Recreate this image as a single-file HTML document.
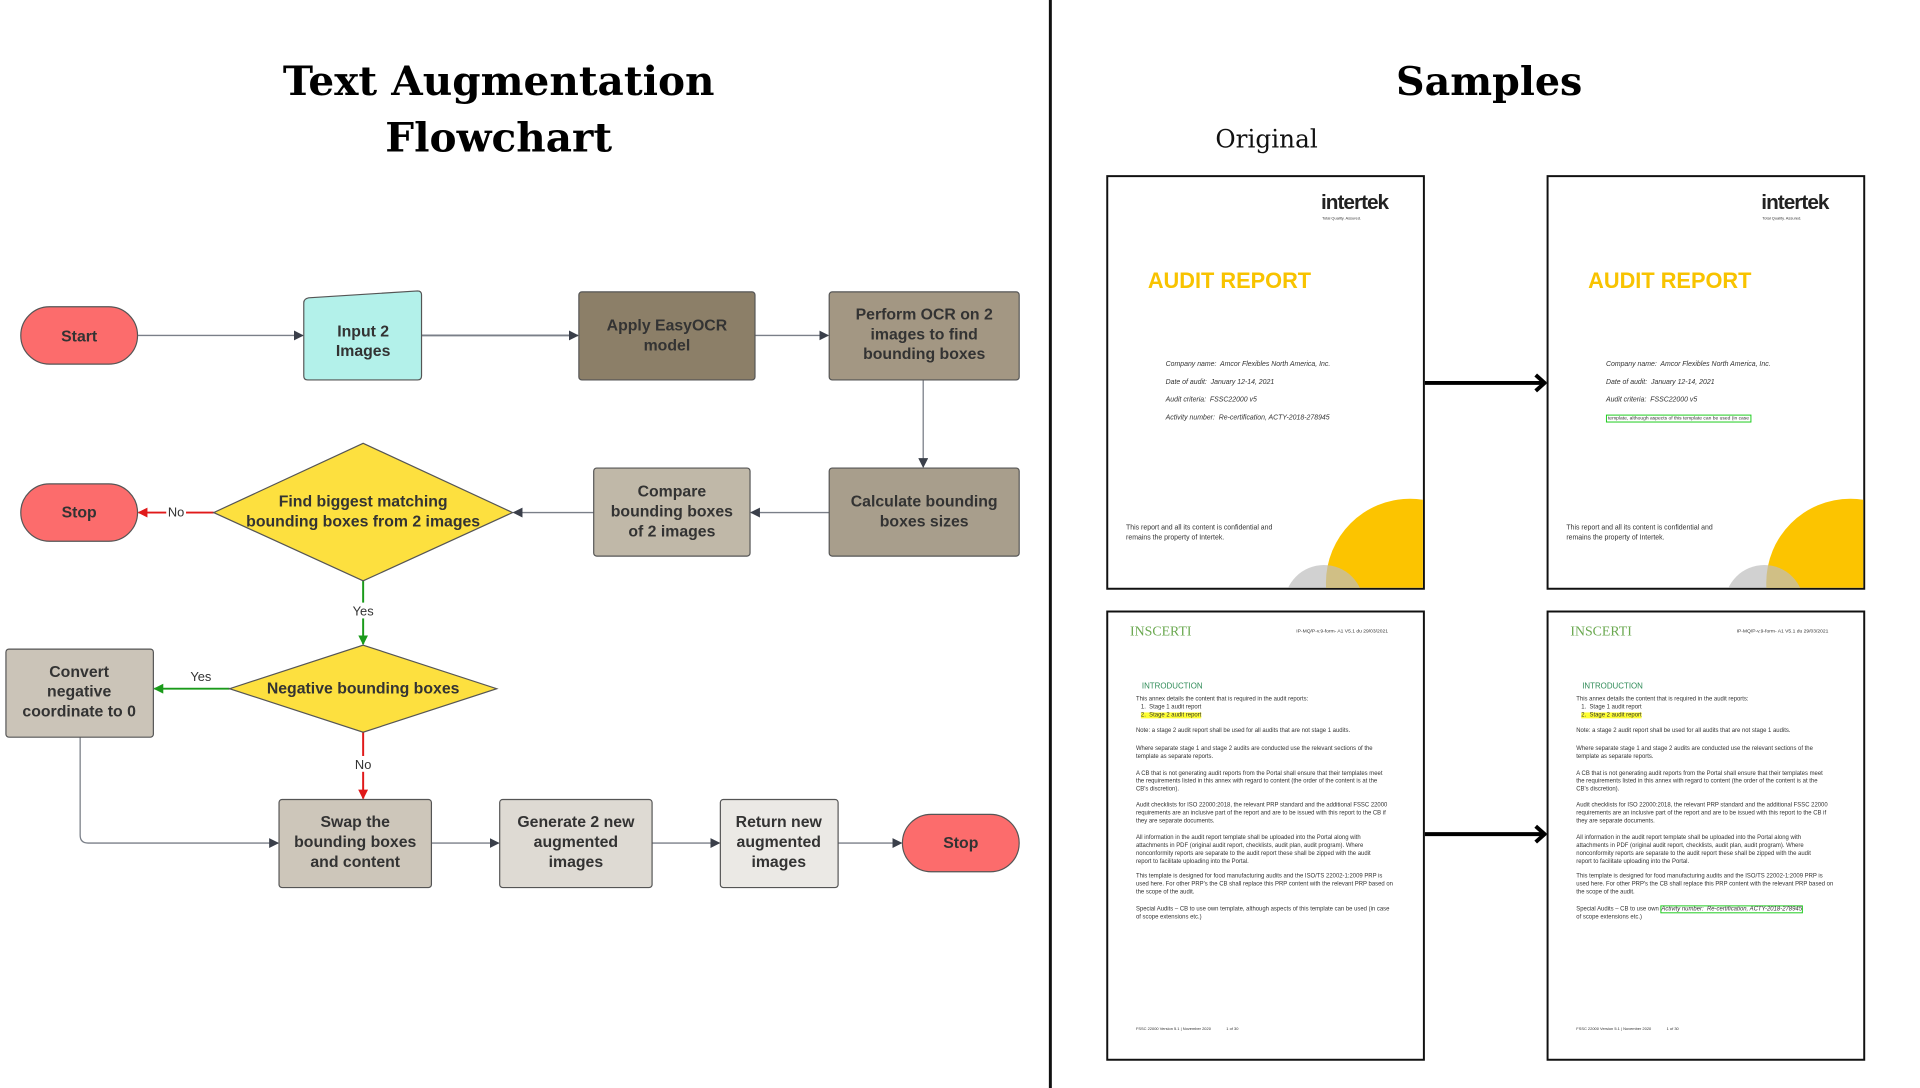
<!DOCTYPE html>
<html><head><meta charset="utf-8"><style>
body{margin:0;width:1920px;height:1080px;background:#fff;position:relative;overflow:hidden;font-family:"Liberation Sans",sans-serif}
#w{position:absolute;left:0;top:0;width:1940px;height:1100px;transform:scale(0.9895);transform-origin:0 0}
.a{position:absolute}
.doc{position:absolute;border:2px solid #111;background:#fff;overflow:hidden;box-sizing:border-box}
.t{position:absolute;white-space:nowrap;font-size:6px;color:#333}
.it{font-style:italic;font-size:7px;color:#333}
</style></head><body><div id="w">
<div class="a" style="left:1060px;top:0;width:3px;height:1100px;background:#111"></div>
<div class="a" style="left:154px;top:54px;width:700px;text-align:center;font:bold 41px/57px 'DejaVu Serif',serif;color:#000">Text Augmentation<br>Flowchart</div>
<div class="a" style="left:1305px;top:54px;width:400px;text-align:center;font:bold 40px/57px 'DejaVu Serif',serif;color:#000">Samples</div>
<div class="a" style="left:1180px;top:126px;width:200px;text-align:center;font:25px 'DejaVu Serif',serif;color:#111">Original</div>

<svg class="a" style="left:0;top:0" width="1060" height="1080" font-family="Liberation Sans, sans-serif" font-weight="bold" font-size="16" fill="#333">
<defs>
<marker id="ag" markerWidth="10" markerHeight="10" refX="9" refY="5" orient="auto" markerUnits="userSpaceOnUse"><path d="M0,0 L10,5 L0,10z" fill="#3a3f4a"/></marker>
<marker id="ar" markerWidth="10" markerHeight="10" refX="9" refY="5" orient="auto" markerUnits="userSpaceOnUse"><path d="M0,0 L10,5 L0,10z" fill="#e0191a"/></marker>
<marker id="agr" markerWidth="10" markerHeight="10" refX="9" refY="5" orient="auto" markerUnits="userSpaceOnUse"><path d="M0,0 L10,5 L0,10z" fill="#1a9a1a"/></marker>
</defs>
<g stroke="#7a7f88" stroke-width="1.3" fill="none">
<line x1="139" y1="339" x2="306" y2="339" marker-end="url(#ag)"/>
<line x1="426" y1="339" x2="584" y2="339" stroke-width="2" marker-end="url(#ag)"/>
<line x1="763" y1="339" x2="837" y2="339" marker-end="url(#ag)"/>
<line x1="933" y1="384" x2="933" y2="472" marker-end="url(#ag)"/>
<line x1="838" y1="518" x2="759" y2="518" marker-end="url(#ag)"/>
<line x1="600" y1="518" x2="519" y2="518" marker-end="url(#ag)"/>
<path d="M81,745 V844 Q81,852 89,852 H281" marker-end="url(#ag)"/>
<line x1="436" y1="852" x2="504" y2="852" marker-end="url(#ag)"/>
<line x1="659" y1="852" x2="727" y2="852" marker-end="url(#ag)"/>
<line x1="847" y1="852" x2="911" y2="852" marker-end="url(#ag)"/>
</g>
<line x1="216" y1="518" x2="140" y2="518" stroke="#e0191a" stroke-width="2" marker-end="url(#ar)"/>
<line x1="367" y1="587" x2="367" y2="651" stroke="#1a9a1a" stroke-width="2" marker-end="url(#agr)"/>
<line x1="232" y1="696" x2="156" y2="696" stroke="#1a9a1a" stroke-width="2" marker-end="url(#agr)"/>
<line x1="367" y1="740" x2="367" y2="807" stroke="#e0191a" stroke-width="2" marker-end="url(#ar)"/>
<g font-weight="normal" font-size="13" fill="#333" text-anchor="middle">
<rect x="168" y="510" width="20" height="16" fill="#fff"/><text x="178" y="522">No</text>
<rect x="355" y="609" width="26" height="16" fill="#fff"/><text x="367" y="622">Yes</text>
<text x="203" y="688">Yes</text>
<rect x="356" y="764" width="22" height="16" fill="#fff"/><text x="367" y="777">No</text>
</g>
<g stroke="#555" stroke-width="1.2">
<rect x="21" y="310" width="118" height="58" rx="29" fill="#fc6c6c"/>
<path d="M307,306 Q307,302 312,301 L422,294 Q426,294 426,298 V380 Q426,384 422,384 H311 Q307,384 307,380Z" fill="#b3f1ea"/>
<rect x="585" y="295" width="178" height="89" rx="3" fill="#8c7f68"/>
<rect x="838" y="295" width="192" height="89" rx="3" fill="#a39783"/>
<rect x="838" y="473" width="192" height="89" rx="3" fill="#a89e8c"/>
<rect x="600" y="473" width="158" height="89" rx="3" fill="#c0b8a8"/>
<path d="M367,448 L518,518 L367,587 L216,518Z" fill="#fde03f"/>
<rect x="21" y="489" width="118" height="58" rx="29" fill="#fc6c6c"/>
<path d="M367,652 L502,696 L367,740 L232,696Z" fill="#fde03f"/>
<rect x="6" y="656" width="149" height="89" rx="3" fill="#cbc4b8"/>
<rect x="282" y="808" width="154" height="89" rx="3" fill="#cdc6ba"/>
<rect x="505" y="808" width="154" height="89" rx="3" fill="#dedad3"/>
<rect x="728" y="808" width="119" height="89" rx="3" fill="#ebe9e5"/>
<rect x="912" y="823" width="118" height="58" rx="29" fill="#fc6c6c"/>
</g>
<g text-anchor="middle">
<text x="80" y="345">Start</text>
<text x="367" y="340">Input 2</text><text x="367" y="360">Images</text>
<text x="674" y="334">Apply EasyOCR</text><text x="674" y="354">model</text>
<text x="934" y="323">Perform OCR on 2</text><text x="934" y="343">images to find</text><text x="934" y="363">bounding boxes</text>
<text x="934" y="512">Calculate bounding</text><text x="934" y="532">boxes sizes</text>
<text x="679" y="502">Compare</text><text x="679" y="522">bounding boxes</text><text x="679" y="542">of 2 images</text>
<text x="367" y="512">Find biggest matching</text><text x="367" y="532">bounding boxes from 2 images</text>
<text x="80" y="523">Stop</text>
<text x="367" y="701">Negative bounding boxes</text>
<text x="80" y="684">Convert</text><text x="80" y="704">negative</text><text x="80" y="724">coordinate to 0</text>
<text x="359" y="836">Swap the</text><text x="359" y="856">bounding boxes</text><text x="359" y="876">and content</text>
<text x="582" y="836">Generate 2 new</text><text x="582" y="856">augmented</text><text x="582" y="876">images</text>
<text x="787" y="836">Return new</text><text x="787" y="856">augmented</text><text x="787" y="876">images</text>
<text x="971" y="857">Stop</text>
</g>
</svg>

<svg class="a" style="left:1438px;top:370px" width="130" height="490">
<line x1="0" y1="17" x2="122" y2="17" stroke="#000" stroke-width="4"/><path d="M114,9 L123,17 L114,25" fill="none" stroke="#000" stroke-width="4"/>
<line x1="0" y1="473" x2="122" y2="473" stroke="#000" stroke-width="4"/><path d="M114,465 L123,473 L114,481" fill="none" stroke="#000" stroke-width="4"/>
</svg>

<div class="doc" style="left:1118px;top:177px;width:322px;height:419px">
<div class="t" style="left:215px;top:14px;font-size:21px;font-weight:bold;color:#222;letter-spacing:-1px">intertek</div>
<div class="t" style="left:216px;top:39px;font-size:4px">Total Quality. Assured.</div>
<div class="t" style="left:40px;top:92px;font-size:22px;font-weight:bold;color:#f8c300">AUDIT REPORT</div>
<div class="t it" style="left:58px;top:186px">Company name:&nbsp; Amcor Flexibles North America, Inc.</div>
<div class="t it" style="left:58px;top:204px">Date of audit:&nbsp; January 12-14, 2021</div>
<div class="t it" style="left:58px;top:222px">Audit criteria:&nbsp; FSSC22000 v5</div>
<div class="t it" style="left:58px;top:240px">Activity number:&nbsp; Re-certification, ACTY-2018-278945</div>
<div class="t" style="left:18px;top:350px;font-size:7px;line-height:10px">This report and all its content is confidential and<br>remains the property of Intertek.</div>
<div class="a" style="left:220px;top:325px;width:170px;height:170px;border-radius:50%;background:#fcc400"></div>
<div class="a" style="left:178px;top:392px;width:80px;height:80px;border-radius:50%;background:rgba(190,190,190,.7)"></div>
</div>
<div class="doc" style="left:1563px;top:177px;width:322px;height:419px">
<div class="t" style="left:215px;top:14px;font-size:21px;font-weight:bold;color:#222;letter-spacing:-1px">intertek</div>
<div class="t" style="left:216px;top:39px;font-size:4px">Total Quality. Assured.</div>
<div class="t" style="left:40px;top:92px;font-size:22px;font-weight:bold;color:#f8c300">AUDIT REPORT</div>
<div class="t it" style="left:58px;top:186px">Company name:&nbsp; Amcor Flexibles North America, Inc.</div>
<div class="t it" style="left:58px;top:204px">Date of audit:&nbsp; January 12-14, 2021</div>
<div class="t it" style="left:58px;top:222px">Audit criteria:&nbsp; FSSC22000 v5</div>
<div class="t" style="left:58px;top:240px;font-size:5px;border:1px solid #1dcc1d;padding:0 1px">template, although aspects of this template can be used (in case</div>
<div class="t" style="left:18px;top:350px;font-size:7px;line-height:10px">This report and all its content is confidential and<br>remains the property of Intertek.</div>
<div class="a" style="left:220px;top:325px;width:170px;height:170px;border-radius:50%;background:#fcc400"></div>
<div class="a" style="left:178px;top:392px;width:80px;height:80px;border-radius:50%;background:rgba(190,190,190,.7)"></div>
</div>

<div class="doc" style="left:1118px;top:617px;width:322px;height:455px">
<div class="t" style="left:22px;top:12px;font-size:14px;color:#6aa84f;font-family:'Liberation Serif',serif">INSCERTI</div>
<div class="t" style="left:190px;top:16px;font-size:5px">IP-MQ/P-v.9-form- A1 V5.1 du 29/03/2021</div>
<div class="t" style="left:34px;top:70px;font-size:8px;color:#2e8b57">INTRODUCTION</div>
<div class="t" style="left:28px;top:84px;line-height:8px">This annex details the content that is required in the audit reports:<br>&nbsp;&nbsp;&nbsp;1.&nbsp;&nbsp;Stage 1 audit report<br>&nbsp;&nbsp;&nbsp;<span style="background:#ffff33">2.&nbsp;&nbsp;Stage 2 audit report</span></div>
<div class="t" style="left:28px;top:116px;line-height:8px">Note: a stage 2 audit report shall be used for all audits that are not stage 1 audits.</div>
<div class="t" style="left:28px;top:134px;line-height:8px">Where separate stage 1 and stage 2 audits are conducted use the relevant sections of the<br>template as separate reports.</div>
<div class="t" style="left:28px;top:159px;line-height:8px">A CB that is not generating audit reports from the Portal shall ensure that their templates meet<br>the requirements listed in this annex with regard to content (the order of the content is at the<br>CB's discretion).</div>
<div class="t" style="left:28px;top:191px;line-height:8px">Audit checklists for ISO 22000:2018, the relevant PRP standard and the additional FSSC 22000<br>requirements are an inclusive part of the report and are to be issued with this report to the CB if<br>they are separate documents.</div>
<div class="t" style="left:28px;top:224px;line-height:8px">All information in the audit report template shall be uploaded into the Portal along with<br>attachments in PDF (original audit report, checklists, audit plan, audit program). Where<br>nonconformity reports are separate to the audit report these shall be zipped with the audit<br>report to facilitate uploading into the Portal.</div>
<div class="t" style="left:28px;top:263px;line-height:8px">This template is designed for food manufacturing audits and the ISO/TS 22002-1:2009 PRP is<br>used here. For other PRP's the CB shall replace this PRP content with the relevant PRP based on<br>the scope of the audit.</div>
<div class="t" style="left:28px;top:296px;line-height:8px">Special Audits – CB to use own template, although aspects of this template can be used (in case<br>of scope extensions etc.)</div>
<div class="t" style="left:28px;top:418px;font-size:4px">FSSC 22000 Version 5.1 | November 2020&nbsp;&nbsp;&nbsp;&nbsp;&nbsp;&nbsp;&nbsp;&nbsp;&nbsp;&nbsp;&nbsp;&nbsp;&nbsp;&nbsp;1 of 30</div>
</div>
<div class="doc" style="left:1563px;top:617px;width:322px;height:455px">
<div class="t" style="left:22px;top:12px;font-size:14px;color:#6aa84f;font-family:'Liberation Serif',serif">INSCERTI</div>
<div class="t" style="left:190px;top:16px;font-size:5px">IP-MQ/P-v.9-form- A1 V5.1 du 29/03/2021</div>
<div class="t" style="left:34px;top:70px;font-size:8px;color:#2e8b57">INTRODUCTION</div>
<div class="t" style="left:28px;top:84px;line-height:8px">This annex details the content that is required in the audit reports:<br>&nbsp;&nbsp;&nbsp;1.&nbsp;&nbsp;Stage 1 audit report<br>&nbsp;&nbsp;&nbsp;<span style="background:#ffff33">2.&nbsp;&nbsp;Stage 2 audit report</span></div>
<div class="t" style="left:28px;top:116px;line-height:8px">Note: a stage 2 audit report shall be used for all audits that are not stage 1 audits.</div>
<div class="t" style="left:28px;top:134px;line-height:8px">Where separate stage 1 and stage 2 audits are conducted use the relevant sections of the<br>template as separate reports.</div>
<div class="t" style="left:28px;top:159px;line-height:8px">A CB that is not generating audit reports from the Portal shall ensure that their templates meet<br>the requirements listed in this annex with regard to content (the order of the content is at the<br>CB's discretion).</div>
<div class="t" style="left:28px;top:191px;line-height:8px">Audit checklists for ISO 22000:2018, the relevant PRP standard and the additional FSSC 22000<br>requirements are an inclusive part of the report and are to be issued with this report to the CB if<br>they are separate documents.</div>
<div class="t" style="left:28px;top:224px;line-height:8px">All information in the audit report template shall be uploaded into the Portal along with<br>attachments in PDF (original audit report, checklists, audit plan, audit program). Where<br>nonconformity reports are separate to the audit report these shall be zipped with the audit<br>report to facilitate uploading into the Portal.</div>
<div class="t" style="left:28px;top:263px;line-height:8px">This template is designed for food manufacturing audits and the ISO/TS 22002-1:2009 PRP is<br>used here. For other PRP's the CB shall replace this PRP content with the relevant PRP based on<br>the scope of the audit.</div>
<div class="t" style="left:28px;top:296px;line-height:8px">Special Audits – CB to use own <span style="border:1px solid #1dcc1d;font-style:italic">Activity number:&nbsp; Re-certification, ACTY-2018-278945</span><br>of scope extensions etc.)</div>
<div class="t" style="left:28px;top:418px;font-size:4px">FSSC 22000 Version 5.1 | November 2020&nbsp;&nbsp;&nbsp;&nbsp;&nbsp;&nbsp;&nbsp;&nbsp;&nbsp;&nbsp;&nbsp;&nbsp;&nbsp;&nbsp;1 of 30</div>
</div>
</div></body></html>
